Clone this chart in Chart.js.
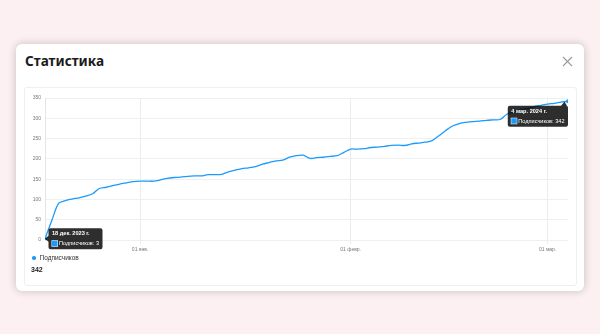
<!DOCTYPE html>
<html><head><meta charset="utf-8">
<script src="https://cdn.jsdelivr.net/npm/chart.js@4/dist/chart.umd.min.js"></script>
<style>
html,body{margin:0;padding:0;}
body{width:600px;height:334px;background:#fcf0f2;position:relative;overflow:hidden;font-family:"Noto Sans",sans-serif;}
.modal{position:absolute;left:16px;top:44px;width:568px;height:247px;background:#fff;border-radius:6px;box-shadow:0 0 9px rgba(0,0,0,0.22);}
.title{position:absolute;left:9px;top:7px;font-size:13.6px;font-weight:700;color:#1b1b1b;}
.close{position:absolute;left:546px;top:12px;width:11px;height:11px;}
.inner{position:absolute;left:8px;top:43px;width:551px;height:197px;border:1px solid #efefef;border-radius:3px;}
#wrap{position:absolute;left:0px;top:0px;width:550px;height:168px;}
.legend{position:absolute;left:7px;top:166px;font-family:"Liberation Sans",Arial,sans-serif;font-size:6.5px;color:#333;}
.dot{display:inline-block;width:3.5px;height:3.5px;border-radius:50%;background:#1a9bfc;margin-right:4px;vertical-align:middle;position:relative;top:-0.5px;}
.total{position:absolute;left:6px;top:178px;font-family:"Liberation Sans",Arial,sans-serif;font-size:7px;font-weight:700;color:#222;}
</style></head>
<body>
<div class="modal">
  <div class="title">Статистика</div>
  <svg class="close" viewBox="0 0 11 11"><path d="M1 1L10 10M10 1L1 10" stroke="#9a9a9a" stroke-width="1.1" fill="none"/></svg>
  <div class="inner">
    <div id="wrap"><canvas id="c"></canvas></div>
    <div class="legend"><span class="dot"></span>Подписчиков</div>
    <div class="total">342</div>
  </div>
</div>
<script>
const seriesName = 'Подписчиков';
const startDate = '2023-12-18';
const values = [
  3, 48, 90, 97, 101, 104, 108, 114, 127, 130, 134, 138, 141, 144,
  145, 145, 145, 148, 152, 154, 155, 157, 158, 158, 161, 161, 162, 168, 172, 176, 178, 181, 187, 191, 195, 197, 204, 208, 209, 201, 203, 204, 206, 208, 216,
  224, 224, 225, 228, 229, 231, 233, 234, 233, 237, 239, 241, 245, 257, 270, 281, 287, 290, 292, 293, 295, 296, 297, 310, 316, 321, 324, 329, 332,
  335, 337, 340, 342
];
const tickDates = ['2024-01-01', '2024-02-01', '2024-03-01'];
const tickLabels = ['01 янв.', '01 февр.', '01 мар.'];
const tipIndex = [0, 77];
const tipTitles = ['18 дек. 2023 г.', '4 мар. 2024 г.'];
const yTicks = [0, 50, 100, 150, 200, 250, 300, 350];

const DAY = 864e5;
const dayOf = d => Math.round((Date.parse(d) - Date.parse(startDate)) / DAY);
const points = values.map((v, i) => ({x: i, y: v}));
const tickPos = tickDates.map(dayOf);
const blue = '#1a9bfc';

const tipPlugin = {
  id: 'tips',
  afterDraw(chart) {
    const ctx = chart.ctx;
    const meta = chart.getDatasetMeta(0);
    tipIndex.forEach((idx, k) => {
      const p = meta.data[idx];
      if (!p) return;
      const title = tipTitles[k];
      const body = seriesName + ': ' + values[idx];
      ctx.save();
      ctx.font = 'bold 5.6px "Liberation Sans", Arial';
      const tw = ctx.measureText(title).width;
      ctx.font = '5.6px "Liberation Sans", Arial';
      const bw = ctx.measureText(body).width + 7;
      const w = Math.max(tw, bw) + 7, h = 21;
      let bx, by;
      if (k === 0) { bx = p.x + 3.5; by = p.y - h / 2; }
      else { bx = p.x - w; by = p.y + 4.5; }
      ctx.fillStyle = 'rgba(0,0,0,0.82)';
      ctx.beginPath();
      const r = 2;
      ctx.moveTo(bx + r, by);
      if (k === 1) { ctx.lineTo(bx + w - 7, by); ctx.lineTo(bx + w - 3.5, by - 4); ctx.lineTo(bx + w - 1, by); }
      ctx.lineTo(bx + w - r, by); ctx.quadraticCurveTo(bx + w, by, bx + w, by + r);
      ctx.lineTo(bx + w, by + h - r); ctx.quadraticCurveTo(bx + w, by + h, bx + w - r, by + h);
      ctx.lineTo(bx + r, by + h); ctx.quadraticCurveTo(bx, by + h, bx, by + h - r);
      if (k === 0) { ctx.lineTo(bx, p.y + 3); ctx.lineTo(bx - 3.5, p.y); ctx.lineTo(bx, p.y - 3); }
      ctx.lineTo(bx, by + r); ctx.quadraticCurveTo(bx, by, bx + r, by);
      ctx.closePath(); ctx.fill();
      ctx.fillStyle = '#fff';
      ctx.textBaseline = 'middle';
      ctx.font = 'bold 5.6px "Liberation Sans", Arial';
      ctx.fillText(title, bx + 3.5, by + 5.5);
      ctx.fillStyle = '#fff';
      ctx.fillRect(bx + 3, by + 12, 6.5, 6.5);
      ctx.fillStyle = blue;
      ctx.fillRect(bx + 3.5, by + 12.5, 5.5, 5.5);
      ctx.fillStyle = '#fff';
      ctx.font = '5.6px "Liberation Sans", Arial';
      ctx.fillText(body, bx + 10.5, by + 15.5);
      ctx.restore();
    });
  }
};

new Chart(document.getElementById('c'), {
  type: 'line',
  data: { datasets: [{
    label: seriesName, data: points, borderColor: blue, backgroundColor: blue,
    borderWidth: 1.3, tension: 0.3,
    pointRadius: ctx => tipIndex.includes(ctx.dataIndex) ? 2 : 0,
    pointBorderWidth: 0, pointBackgroundColor: blue
  }]},
  options: {
    responsive: true, maintainAspectRatio: false, animation: false,
    layout: { padding: { left: 0, right: 7, top: 10, bottom: 0 } },
    plugins: { legend: { display: false }, tooltip: { enabled: false } },
    events: [],
    scales: {
      x: {
        type: 'linear', min: 0, max: values.length - 1,
        afterBuildTicks: s => { s.ticks = tickPos.map(v => ({value: v})); },
        afterFit: s => { s.height = 16; },
        ticks: { autoSkip: false, maxRotation: 0, padding: 3, color: '#777',
          font: { size: 5, family: '"Liberation Sans", Arial' },
          callback: v => tickLabels[tickPos.indexOf(v)] ?? '' },
        grid: { color: '#ececec', drawTicks: true, tickLength: 4, lineWidth: 1 },
        border: { display: false }
      },
      y: {
        min: 0, max: 350,
        afterBuildTicks: s => { s.ticks = yTicks.map(v => ({value: v})); },
        afterFit: s => { s.width = 20; },
        ticks: { padding: 4, color: '#777', font: { size: 5, family: '"Liberation Sans", Arial' } },
        grid: { color: '#efefef', drawTicks: false, lineWidth: 1 },
        border: { color: '#e4e4e4' }
      }
    }
  },
  plugins: [tipPlugin]
});
</script>
</body></html>
